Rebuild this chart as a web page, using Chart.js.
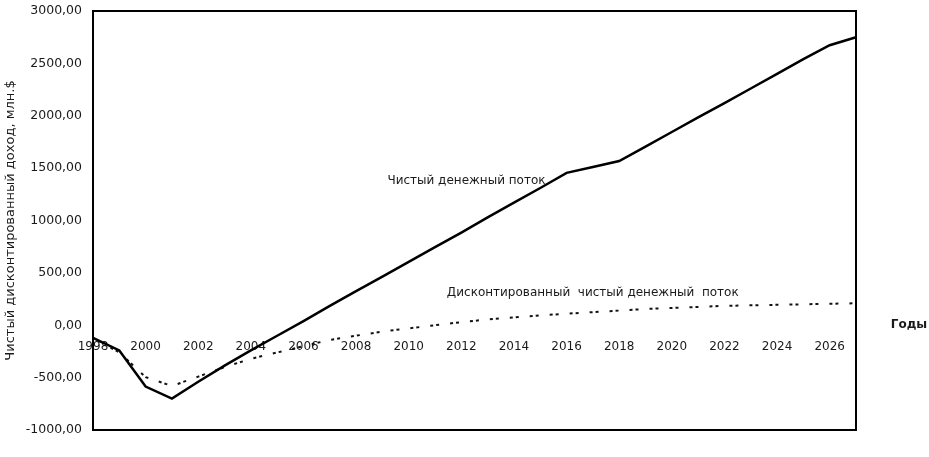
<!DOCTYPE html>
<html>
<head>
<meta charset="utf-8">
<script src="https://cdn.jsdelivr.net/npm/chart.js@4.4.1/dist/chart.umd.min.js"></script>
<style>
    html, body { margin: 0; padding: 0; background: #fff; }
    .chart-box { width: 929px; height: 457px; }
</style>
</head>
<body>
<div class="chart-box"><canvas id="flow"></canvas></div>
<script>
// years on the category axis, every second one gets a label
const years = [
    1998, 1999, 2000, 2001, 2002, 2003, 2004, 2005, 2006, 2007,
    2008, 2009, 2010, 2011, 2012, 2013, 2014, 2015, 2016, 2017,
    2018, 2019, 2020, 2021, 2022, 2023, 2024, 2025, 2026, 2027
];

// net cash flow, mln $
const netFlow = [
    -120, -240, -585, -700, -540, -385, -240, -100, 40, 185,
    325, 465, 605, 745, 885, 1030, 1170, 1310, 1455, 1510,
    1568, 1705, 1845, 1985, 2120, 2260, 2400, 2540, 2673, 2750
];

// discounted net cash flow, mln $
const discFlow = [
    -120, -260, -495, -580, -490, -400, -320, -260, -200, -140,
    -100, -60, -30, 0, 30, 55, 75, 95, 110, 125,
    140, 155, 165, 175, 185, 190, 195, 200, 205, 210
];

// y ticks
const yMin = -1000;
const yMax = 3000;
const yStep = 500;

const yTitle = 'Чистый дисконтированный доход, млн.$';
const xTitle = 'Годы';
const netLabel = 'Чистый денежный поток';
const discLabel = 'Дисконтированный  чистый денежный  поток';

const font = { family: 'DejaVu Sans', size: 12 };
const ink = '#1a1a1a';

// frame round the plot area plus the text notes on the lines
const notesPlugin = {
    id: 'notes',
    afterDraw: chart => {
        const { ctx, chartArea, scales } = chart;
        const x = scales.x;
        const y = scales.y;
        ctx.save();
        ctx.strokeStyle = '#000';
        ctx.lineWidth = 2;
        ctx.strokeRect(chartArea.left, chartArea.top,
            chartArea.right - chartArea.left, chartArea.bottom - chartArea.top);

        ctx.fillStyle = ink;
        ctx.font = '12px "DejaVu Sans"';
        ctx.textBaseline = 'middle';
        ctx.textAlign = 'right';
        ctx.fillText(netLabel, x.getPixelForValue(17.2), y.getPixelForValue(1375));
        ctx.textAlign = 'left';
        ctx.fillText(discLabel, x.getPixelForValue(13.45), y.getPixelForValue(305));

        ctx.font = 'bold 12px "DejaVu Sans"';
        ctx.textAlign = 'center';
        ctx.fillText(xTitle, chartArea.right + 53, y.getPixelForValue(0));
        ctx.restore();
    }
};

const chart = new Chart(document.querySelector('#flow'), {
    type: 'line',
    data: {
        labels: years,
        datasets: [
            {
                label: netLabel,
                data: netFlow,
                borderColor: '#000',
                borderWidth: 2.5,
                pointRadius: 0,
                tension: 0
            },
            {
                label: discLabel,
                data: discFlow,
                borderColor: '#111',
                borderWidth: 2,
                borderDash: [3, 3, 3, 11],
                pointRadius: 0,
                tension: 0
            }
        ]
    },
    options: {
        responsive: true,
        maintainAspectRatio: false,
        animation: false,
        layout: {
            padding: { top: 11, right: 73, bottom: 27, left: 0 }
        },
        plugins: {
            legend: { display: false },
            tooltip: { enabled: false }
        },
        scales: {
            x: {
                type: 'category',
                position: { y: 0 },
                offset: false,
                grid: { display: false, drawTicks: false },
                border: { display: false },
                ticks: {
                    autoSkip: false,
                    maxRotation: 0,
                    padding: 14,
                    color: ink,
                    font: font,
                    // only even years are written under the axis
                    callback: (value, index) => years[index] % 2 === 0 ? years[index] : ''
                }
            },
            y: {
                min: yMin,
                max: yMax,
                grid: { display: false, drawTicks: false },
                border: { display: false },
                ticks: {
                    stepSize: yStep,
                    padding: 11,
                    color: ink,
                    font: { family: 'DejaVu Sans', size: 12.5 },
                    callback: value => value.toFixed(2).replace('.', ',')
                },
                title: {
                    display: true,
                    text: yTitle,
                    color: ink,
                    font: { family: 'DejaVu Sans', size: 13 },
                    padding: { top: 3, bottom: 0 }
                },
                afterFit: scale => {
                    scale.width = 93;
                    // tick padding would otherwise push the plot top down
                    scale.paddingTop = 7;
                    scale.paddingBottom = 7;
                }
            }
        }
    },
    plugins: [notesPlugin]
});
</script>
</body>
</html>
